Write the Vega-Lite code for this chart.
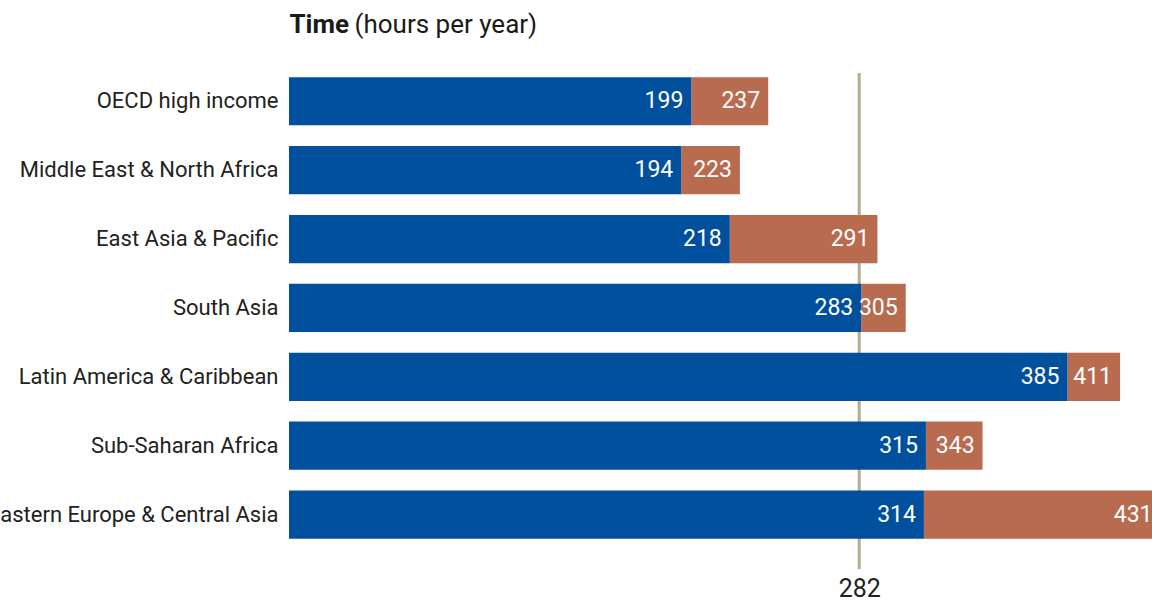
{
  "$schema": "https://vega.github.io/schema/vega-lite/v6.json",
  "autosize": "none",
  "width": 863,
  "height": 496,
  "padding": {"left": 289, "top": 73, "right": 0, "bottom": 36},
  "background": "white",
  "config": {
    "view": {"stroke": null},
    "font": "Roboto, 'Liberation Sans', sans-serif"
  },
  "data": {
    "values": [
      {"region": "OECD high income", "v1": 199, "v2": 237},
      {"region": "Middle East & North Africa", "v1": 194, "v2": 223},
      {"region": "East Asia & Pacific", "v1": 218, "v2": 291},
      {"region": "South Asia", "v1": 283, "v2": 305},
      {"region": "Latin America & Caribbean", "v1": 385, "v2": 411},
      {"region": "Sub-Saharan Africa", "v1": 315, "v2": 343},
      {"region": "Eastern Europe & Central Asia", "v1": 314, "v2": 431}
    ]
  },
  "layer": [
    {
      "data": {"values": [{"avg": 282}]},
      "mark": {"type": "rule", "color": "#b3ab92", "strokeWidth": 3},
      "encoding": {
        "x": {
          "field": "avg",
          "type": "quantitative",
          "scale": {"domain": [0, 426.8], "nice": false, "zero": true},
          "axis": {
            "orient": "bottom",
            "values": [282],
            "title": null,
            "ticks": false,
            "domain": false,
            "grid": false,
            "labelPadding": 7,
            "labelFontSize": 25,
            "labelColor": "#222222"
          }
        }
      }
    },
    {
      "mark": {"type": "bar", "color": "#b96b50", "clip": true},
      "encoding": {
        "y": {
          "field": "region",
          "type": "nominal",
          "sort": null,
          "scale": {"paddingInner": 0.3, "paddingOuter": 0.25, "align": 0.12},
          "axis": {
            "title": "Time",
            "titleAngle": 0,
            "titleX": 0,
            "titleY": -41,
            "titleAlign": "left",
            "titleBaseline": "alphabetic",
            "titleFontSize": 26,
            "titleFontWeight": "bold",
            "titleColor": "#1a1a1a",
            "domain": false,
            "ticks": false,
            "labelPadding": 11,
            "labelFontSize": 22,
            "labelColor": "#222222",
            "labelLimit": 600
          }
        },
        "x": {
          "field": "v2",
          "type": "quantitative",
          "axis": {
            "orient": "top",
            "labels": false,
            "ticks": false,
            "domain": false,
            "grid": false,
            "title": "(hours per year)",
            "titleX": 65,
            "titleY": -41,
            "titleAlign": "left",
            "titleBaseline": "alphabetic",
            "titleFontSize": 26,
            "titleFontWeight": "normal",
            "titleColor": "#1a1a1a"
          }
        },
        "x2": {"field": "v1"}
      }
    },
    {
      "mark": {"type": "bar", "color": "#00509e"},
      "encoding": {
        "y": {"field": "region", "type": "nominal", "sort": null},
        "x": {"field": "v1", "type": "quantitative", "axis": null}
      }
    },
    {
      "mark": {"type": "text", "color": "white", "align": "right", "baseline": "middle", "dx": -8, "fontSize": 23},
      "encoding": {
        "y": {"field": "region", "type": "nominal", "sort": null},
        "x": {"field": "v1", "type": "quantitative", "axis": null},
        "text": {"field": "v1", "type": "quantitative"}
      }
    },
    {
      "mark": {"type": "text", "color": "white", "align": "right", "baseline": "middle", "dx": -8, "fontSize": 23},
      "encoding": {
        "y": {"field": "region", "type": "nominal", "sort": null},
        "x": {"field": "v2", "type": "quantitative", "axis": null},
        "text": {"field": "v2", "type": "quantitative"}
      }
    }
  ],
  "resolve": {"axis": {"x": "independent"}}
}
